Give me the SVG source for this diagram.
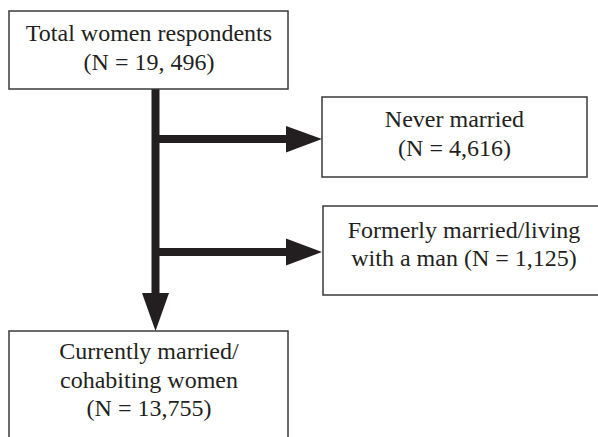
<svg xmlns="http://www.w3.org/2000/svg" width="598" height="437" viewBox="0 0 598 437">
<style>
.box{fill:#fff;stroke:#3a3a3a;stroke-width:1.5}
.t{font-family:"Liberation Serif","Times New Roman",serif;font-size:24px;fill:#231f20;text-anchor:middle}
.ln{stroke:#231f20;stroke-width:8;fill:none}
.hd{fill:#231f20}
</style>
<rect width="598" height="437" fill="#fff"/>
<g id="connectors">
<path class="ln" d="M155.5 89 V296"/>
<path class="ln" d="M155.5 139 H289"/>
<path class="ln" d="M155.5 252 H289"/>
<polygon class="hd" points="286,126 322,139 286,152.5"/>
<polygon class="hd" points="286,238.5 322,252 286,265.5"/>
<polygon class="hd" points="142,293 169,293 155.5,331"/>
</g>
<g id="total">
<rect class="box" x="9" y="11" width="279" height="78"/>
<text class="t" x="149" y="41">Total women respondents</text>
<text class="t" x="149" y="70">(N = 19, 496)</text>
</g>
<g id="never">
<rect class="box" x="322" y="97" width="265" height="80"/>
<text class="t" x="454.5" y="127">Never married</text>
<text class="t" x="454.5" y="156">(N = 4,616)</text>
</g>
<g id="formerly">
<rect class="box" x="323" y="206" width="290" height="89"/>
<text class="t" x="464" y="238">Formerly married/living</text>
<text class="t" x="464" y="266">with a man (N = 1,125)</text>
</g>
<g id="current">
<rect class="box" x="9" y="331" width="279" height="120"/>
<text class="t" x="149" y="359">Currently married/</text>
<text class="t" x="149" y="388">cohabiting women</text>
<text class="t" x="149" y="416">(N = 13,755)</text>
</g>
</svg>
